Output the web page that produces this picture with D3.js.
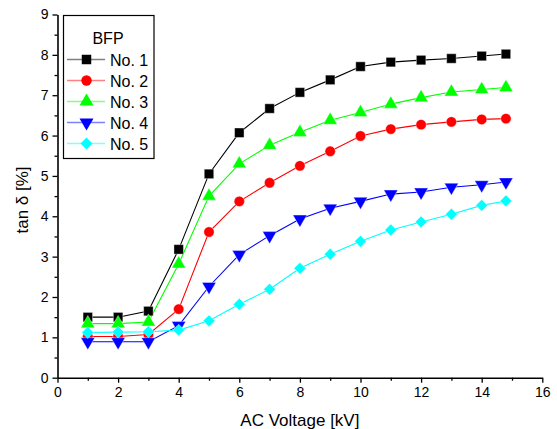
<!DOCTYPE html>
<html><head><meta charset="utf-8">
<script src="https://cdn.jsdelivr.net/npm/d3@7"></script>
<style>body{margin:0;background:#fff}svg{display:block}text{font-family:"Liberation Sans",Arial,sans-serif}</style>
</head><body>
<script>
const voltages = [1,2,3,4,5,6,7,8,9,10,11,12,13,14,14.8];
const seriesNames = ["No. 1","No. 2","No. 3","No. 4","No. 5"];
const no1 = [1.5,1.5,1.65,3.18,5.05,6.07,6.67,7.07,7.38,7.71,7.82,7.87,7.91,7.97,8.02];
const no2 = [1.02,1.02,1.07,1.7,3.61,4.37,4.83,5.25,5.61,5.99,6.16,6.27,6.34,6.4,6.42];
const no3 = [1.34,1.34,1.38,2.82,4.5,5.3,5.76,6.08,6.38,6.57,6.78,6.94,7.08,7.14,7.19];
const no4 = [0.89,0.89,0.89,1.29,2.26,3.05,3.52,3.93,4.2,4.37,4.55,4.6,4.72,4.78,4.85];
const no5 = [1.12,1.13,1.14,1.18,1.41,1.82,2.19,2.71,3.06,3.38,3.66,3.86,4.05,4.27,4.38];
const xTicks = [0,2,4,6,8,10,12,14,16];
const yTicks = [0,1,2,3,4,5,6,7,8,9];
const colors = ["#000000","#ff0000","#00ff00","#0000ff","#00ffff"];
const legendLineColors = ["#808080","#ff8080","#80ff80","#8080ff","#80ffff"];
const symbols = ["square","circle","triangle","triangledown","diamond"];
const allSeries = [no1,no2,no3,no4,no5];

const W=557,H=429;
const svg=d3.select("body").append("svg").attr("width",W).attr("height",H);
const x=d3.scaleLinear().domain([0,16]).range([57.5,542.3]);
const y=d3.scaleLinear().domain([0,9]).range([377.7,14.5]);

// axes
const xAxis=d3.axisBottom(x).tickValues(xTicks).tickSize(5).tickSizeOuter(0).tickPadding(4);
svg.append("g").attr("transform",`translate(0,${y(0)})`).call(xAxis);
const xMinor=d3.axisBottom(x).tickValues(d3.range(1,16,2)).tickSize(3).tickSizeOuter(0).tickFormat("");
svg.append("g").attr("transform",`translate(0,${y(0)})`).call(xMinor).select(".domain").remove();
const yAxis=d3.axisLeft(y).tickValues(yTicks).tickSize(5).tickSizeOuter(0).tickPadding(4);
svg.append("g").attr("transform",`translate(${x(0)},0)`).call(yAxis);
const yMinor=d3.axisLeft(y).tickValues(d3.range(0.5,9,1)).tickSize(3).tickSizeOuter(0).tickFormat("");
svg.append("g").attr("transform",`translate(${x(0)},0)`).call(yMinor).select(".domain").remove();
svg.selectAll(".domain").attr("stroke","#000").attr("stroke-width",1.6);
svg.selectAll(".tick line").attr("stroke","#000").attr("stroke-width",1.3);
svg.selectAll(".tick text").attr("font-size",14).attr("fill","#000").style("font-family","'Liberation Sans',Arial,sans-serif");

// axis titles
svg.append("text").attr("x",x(8)).attr("y",426).attr("text-anchor","middle").attr("font-size",17).text("AC Voltage [kV]");
svg.append("text").attr("transform",`translate(28,200) rotate(-90)`).attr("text-anchor","middle").attr("font-size",17).text("tan δ [%]");

function sym(t,size){
  const m={square:d3.symbolSquare,circle:d3.symbolCircle,triangle:d3.symbolTriangle,triangledown:d3.symbolTriangle,diamond:d3.symbolSquare};
  return d3.symbol().type(m[t]).size(size)();
}
const rot={triangledown:" rotate(180)",diamond:" rotate(45)"};
const sizes={square:90,circle:85,triangle:85,triangledown:85,diamond:70};

const line=d3.line().x(d=>x(d[0])).y(d=>y(d[1]));
allSeries.forEach((vals,i)=>{
  const pts=voltages.map((v,j)=>[v,vals[j]]);
  svg.append("path").datum(pts).attr("d",line).attr("fill","none").attr("stroke",colors[i]).attr("stroke-width",1.1);
});
allSeries.forEach((vals,i)=>{
  const pts=voltages.map((v,j)=>[v,vals[j]]);
  svg.append("g").selectAll("path").data(pts).join("path")
    .attr("d",sym(symbols[i],sizes[symbols[i]]))
    .attr("transform",d=>`translate(${x(d[0])},${y(d[1])})${rot[symbols[i]]||""}`)
    .attr("fill",colors[i]).attr("stroke","#fff").attr("stroke-width",0.4);
});

// legend
const lg=svg.append("g");
lg.append("rect").attr("x",63.5).attr("y",15.5).attr("width",90.5).attr("height",143).attr("fill","#fff").attr("stroke","#000").attr("stroke-width",1.2);
lg.append("text").attr("x",108).attr("y",44).attr("text-anchor","middle").attr("font-size",16).text("BFP");
seriesNames.forEach((n,i)=>{
  const yy=59.5+i*21;
  lg.append("line").attr("x1",67).attr("x2",105).attr("y1",yy).attr("y2",yy).attr("stroke",legendLineColors[i]).attr("stroke-width",1.5);
  lg.append("path").attr("d",sym(symbols[i],sizes[symbols[i]])).attr("transform",`translate(86.5,${yy})${rot[symbols[i]]||""}`).attr("fill",colors[i]);
  lg.append("text").attr("x",110).attr("y",yy+6).attr("font-size",16).text(n);
});
</script>
</body></html>
